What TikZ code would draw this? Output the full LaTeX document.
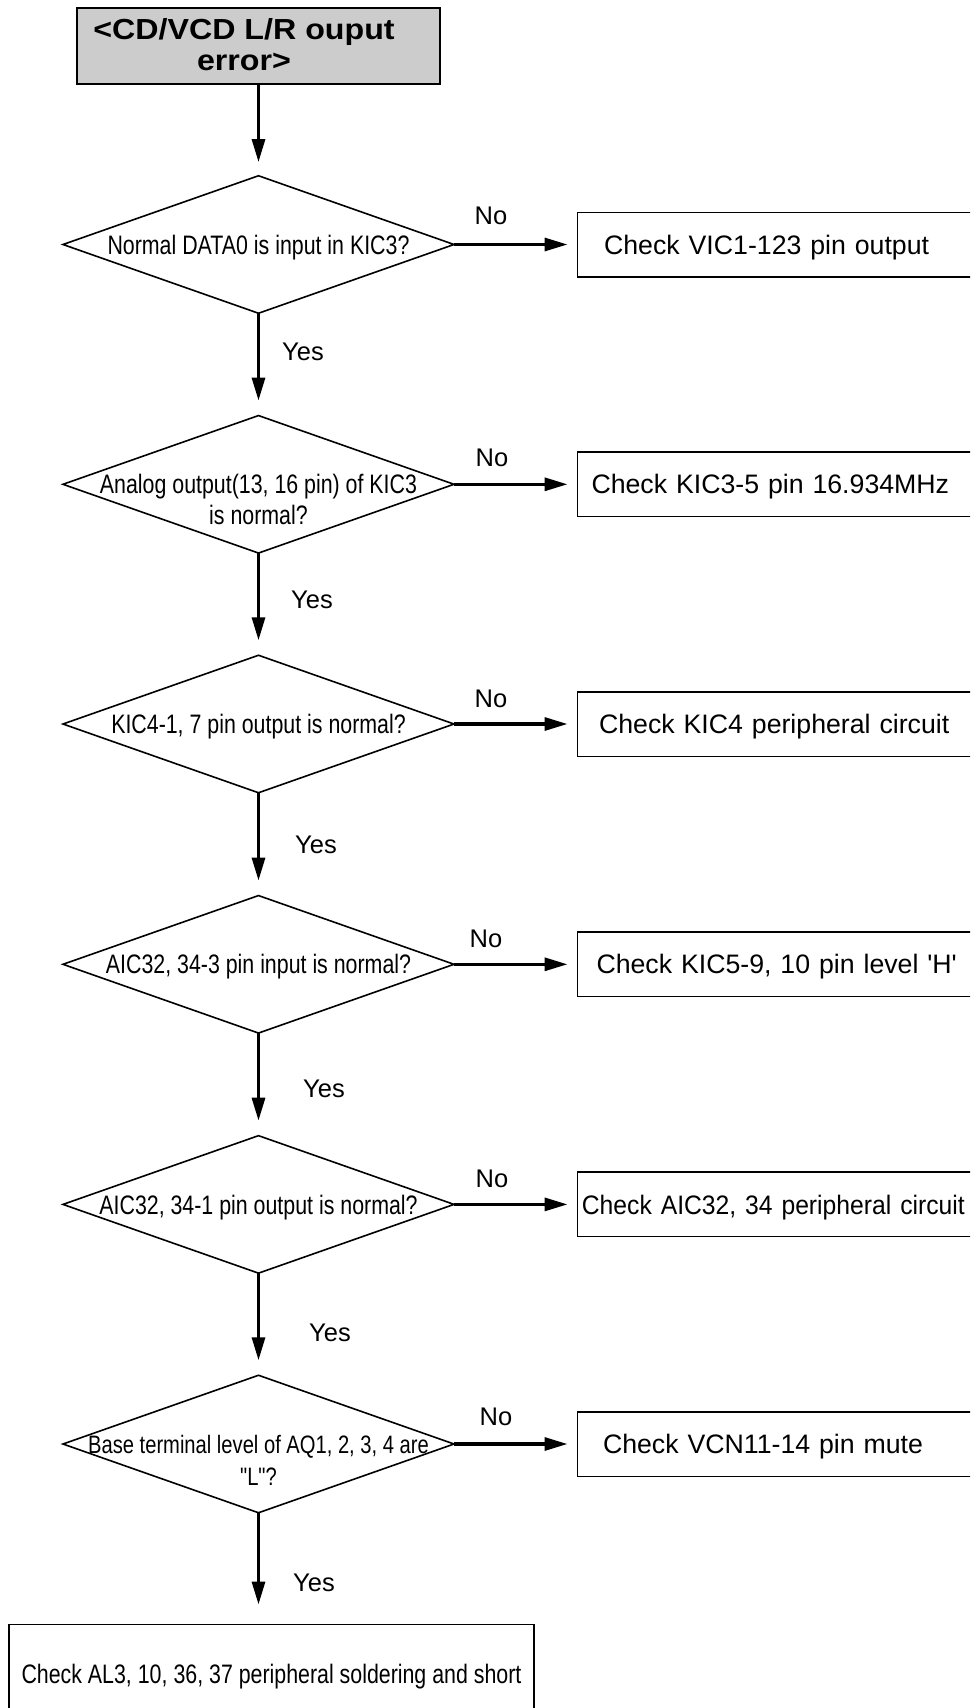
\documentclass[tikz,border=0pt]{standalone}
\usepackage{fontspec}
\setmainfont{Liberation Sans}[Ligatures=TeXOff]
\newfontfamily\narrowfont{Liberation Sans}[FakeStretch=0.8,Ligatures=TeXOff]
\newfontfamily\titlefont{Liberation Sans}[FakeStretch=1.11,Ligatures=TeXOff]
\newfontfamily\boxnarrow{Liberation Sans}[FakeStretch=0.925,Ligatures=TeXOff]
\usetikzlibrary{shapes.geometric,arrows.meta}
\definecolor{titlegray}{RGB}{204,204,204}
\begin{document}
\begin{tikzpicture}[x=1pt,y=-1pt,
  decision/.style={draw, shape=diamond, minimum width=391pt, minimum height=137.5pt,
    inner sep=0pt, outer sep=0pt, line width=1.6pt},
  dtext/.style={font=\narrowfont\fontsize{26.7}{31}\selectfont, align=center, inner sep=0pt},
  oneline/.style={text height=19.2pt, text depth=0pt},
  rbox/.style={draw, line width=1.5pt, anchor=west, minimum height=64.5pt, text width=420pt,
    align=left, font=\fontsize{26.7}{31}\selectfont, text height=19.2pt, text depth=0pt,
    inner ysep=0pt, outer sep=0pt},
  yn/.style={font=\fontsize{25.5}{30}\selectfont, inner sep=0pt, text height=18.3pt, text depth=0pt},
  arr/.style={line width=3.2pt, -{Triangle[length=23pt,width=13pt]}},
]
\path[use as bounding box] (0,0) rectangle (970,1708);
\clip (0,0) rectangle (970,1708);

% title
\node[draw, line width=1.8pt, fill=titlegray, minimum width=362.6pt, minimum height=76pt,
  inner sep=0pt, outer sep=0pt] (title) at (258.5,46.3) {};
\node[font=\titlefont\bfseries\fontsize{29}{31}\selectfont, align=center, inner sep=0pt]
  (titletext) at (244,45) {<CD/VCD L/R ouput\\error>};

% decisions
\node[decision] (d1) at (258.5,244.5) {};
\node[decision] (d2) at (258.5,484.3) {};
\node[decision] (d3) at (258.5,724) {};
\node[decision] (d4) at (258.5,964.3) {};
\node[decision] (d5) at (258.5,1204.4) {};
\node[decision] (d6) at (258.5,1444) {};

\node[dtext, oneline] (t1) at (d1) {Normal DATA0 is input in KIC3?};
\node[dtext] (t2) at ([yshift=-15.3pt]d2.center) {Analog output(13, 16 pin) of KIC3\\is normal?};
\node[dtext, oneline] (t3) at (d3) {KIC4-1, 7 pin output is normal?};
\node[dtext, oneline] (t4) at (d4) {AIC32, 34-3 pin input is normal?};
\node[dtext, oneline] (t5) at (d5) {AIC32, 34-1 pin output is normal?};
\node[dtext, font=\narrowfont\fontsize{25.2}{32}\selectfont] (t6) at ([yshift=-16pt]d6.center)
  {Base terminal level of AQ1, 2, 3, 4 are\\"L"?};

% right boxes
\node[rbox, inner xsep=26.6pt] (b1) at (577.5,244.5) {Check VIC1-123 pin output};
\node[rbox, inner xsep=14pt] (b2) at (577.5,484.3) {Check KIC3-5 pin 16.934MHz};
\node[rbox, inner xsep=21.6pt] (b3) at (577.5,724) {Check KIC4 peripheral circuit};
\node[rbox, inner xsep=19pt] (b4) at (577.5,964.3) {Check KIC5-9, 10 pin level 'H'};
\node[rbox, inner xsep=4.4pt, font=\boxnarrow\fontsize{26.7}{31}\selectfont] (b5) at (577.5,1204.4)
  {Check AIC32, 34 peripheral circuit};
\node[rbox, inner xsep=25.5pt] (b6) at (577.5,1444) {Check VCN11-14 pin mute};

% bottom box
\node[draw, line width=1.5pt, minimum width=525pt, minimum height=98pt, inner sep=0pt,
  outer sep=0pt, font=\narrowfont\fontsize{26.7}{31}\selectfont, text height=19.2pt,
  text depth=0pt] (bot) at (271.5,1673.5) {Check AL3, 10, 36, 37 peripheral soldering and short};

% vertical connectors
\draw[arr, shorten >=13.7pt] (title.south) -- (d1.north);
\draw[arr, shorten >=15pt] (d1.south) -- (d2.north);
\draw[arr, shorten >=15pt] (d2.south) -- (d3.north);
\draw[arr, shorten >=15pt] (d3.south) -- (d4.north);
\draw[arr, shorten >=15pt] (d4.south) -- (d5.north);
\draw[arr, shorten >=15pt] (d5.south) -- (d6.north);
\draw[arr, shorten >=20pt] (d6.south) -- (d6.south |- bot.north);

% horizontal connectors
\draw[arr, shorten >=10pt] (d1.east) -- (b1.west);
\draw[arr, shorten >=10pt] (d2.east) -- (b2.west);
\draw[arr, shorten >=10pt] (d3.east) -- (b3.west);
\draw[arr, shorten >=10pt] (d4.east) -- (b4.west);
\draw[arr, shorten >=10pt] (d5.east) -- (b5.west);
\draw[arr, shorten >=10pt] (d6.east) -- (b6.west);

% labels
\node[yn] (n1) at (491,215) {No};
\node[yn] (n2) at (492,457) {No};
\node[yn] (n3) at (491,698) {No};
\node[yn] (n4) at (486,938) {No};
\node[yn] (n5) at (492,1178) {No};
\node[yn] (n6) at (496,1416) {No};
\node[yn] (y1) at (303,351) {Yes};
\node[yn] (y2) at (312,599) {Yes};
\node[yn] (y3) at (316,844) {Yes};
\node[yn] (y4) at (324,1088) {Yes};
\node[yn] (y5) at (330,1332) {Yes};
\node[yn] (y6) at (314,1582) {Yes};
\end{tikzpicture}
\end{document}
